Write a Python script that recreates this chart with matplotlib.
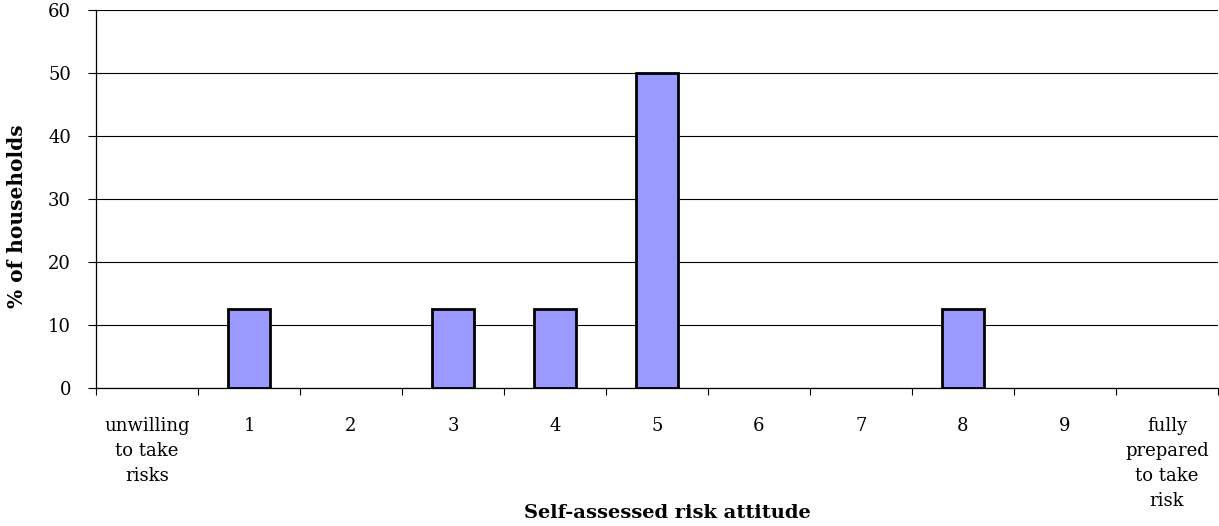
import matplotlib
matplotlib.use("Agg")
import matplotlib.pyplot as plt
import numpy as np

categories = ["unwilling\nto take\nrisks", "1", "2", "3", "4", "5", "6", "7", "8", "9",
              "fully\nprepared\nto take\nrisk"]
values = [0, 12.5, 0, 12.5, 12.5, 50, 0, 0, 12.5, 0, 0]
yticks = [0, 10, 20, 30, 40, 50, 60]

plt.rcParams['font.family'] = ['DejaVu Serif']
fig = plt.figure(figsize=(12.19, 5.26), dpi=100)
ax = fig.add_axes([96/1219, 1-388/526, 1122/1219, 378/526])

x = np.arange(len(categories))
vals = np.array(values, dtype=float)
nz = vals > 0
ax.bar(x[nz], vals[nz], width=0.41, color="#9999FF", edgecolor="black", linewidth=2.0, zorder=3)

ax.set_xlim(-0.5, len(categories) - 0.5)
ax.set_ylim(0, 60)
ax.set_yticks(yticks)
ax.set_yticklabels([str(v) for v in yticks], fontsize=13)
ax.yaxis.grid(True, color="black", linewidth=0.8, zorder=0)
ax.set_axisbelow(True)

ax.set_xticks(x)
ax.set_xticklabels(categories, fontsize=13, linespacing=1.5, va="top", ha="center")
ax.tick_params(axis="x", which="major", length=0, pad=21)
ax.set_xticks(np.arange(-0.5, len(categories) - 0.4, 1.0), minor=True)
ax.tick_params(axis="x", which="minor", length=5, direction="out", width=0.8)
ax.tick_params(axis="y", length=6, direction="out", width=0.8, pad=12)

for s in ["top", "right"]:
    ax.spines[s].set_visible(False)
ax.spines["left"].set_linewidth(0.9)
ax.spines["bottom"].set_linewidth(0.9)

fig.text(17/1219, 1-216/526, "% of households", fontsize=14.5, fontweight="bold",
         rotation=90, ha="center", va="center")
fig.text(667/1219, 1-513/526, "Self-assessed risk attitude", fontsize=14,
         fontweight="bold", ha="center", va="center")

fig.savefig("out.png", dpi=100)
